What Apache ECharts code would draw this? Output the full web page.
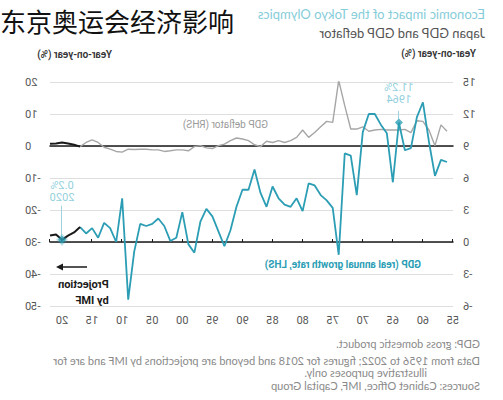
<!DOCTYPE html>
<html><head><meta charset="utf-8">
<script src="https://cdn.jsdelivr.net/npm/echarts@6/dist/echarts.min.js"></script>
<style>
html,body{margin:0;padding:0;background:#fff;}
#wrap{position:relative;width:503px;height:400px;overflow:hidden;background:#fff;}
#chart{position:absolute;left:0;top:0;width:503px;height:400px;transform:scaleX(-1);}
#title{position:absolute;left:0px;top:6px;font-family:"Noto Sans CJK SC";font-size:26px;line-height:30px;color:#111;white-space:nowrap;}
</style></head>
<body><div id="wrap"><div id="chart"></div><div id="title">东京奥运会经济影响</div></div>
<script>
// ---- data ----
const years = [1956,1957,1958,1959,1960,1961,1962,1963,1964,1965,1966,1967,1968,1969,1970,1971,1972,1973,1974,1975,1976,1977,1978,1979,1980,1981,1982,1983,1984,1985,1986,1987,1988,1989,1990,1991,1992,1993,1994,1995,1996,1997,1998,1999,2000,2001,2002,2003,2004,2005,2006,2007,2008,2009,2010,2011,2012,2013,2014,2015,2016,2017];
const gdpGrowth = [7.5,7.7,6.2,9.4,13.1,11.7,8.8,8.6,11.2,5.6,10.2,11.0,12.0,12.0,10.3,4.4,8.1,8.3,-1.2,3.2,3.9,4.4,5.3,5.5,2.9,4.1,3.3,3.5,4.1,5.2,3.3,4.6,6.8,4.9,4.9,3.3,1.1,-0.4,1.0,2.4,3.1,1.9,-1.0,-0.2,2.8,0.4,0.1,1.5,2.2,1.7,1.5,1.7,-0.9,-5.4,4.1,0.0,1.3,1.8,0.4,1.3,0.8,1.4];
const gdpDeflator = [4.6,6.6,0.1,5.0,7.7,7.9,4.2,5.2,5.0,5.0,5.0,5.2,5.0,4.6,6.0,5.3,5.3,12.6,20.5,7.4,7.7,6.0,4.2,2.7,5.0,2.7,1.7,1.1,1.7,1.1,1.5,-0.2,0.4,1.7,2.2,2.5,1.7,0.6,0.1,-0.8,-0.6,0.1,-0.2,-1.5,-1.2,-1.2,-1.5,-1.7,-1.2,-1.2,-1.0,-1.0,-1.1,-1.0,-1.9,-1.7,-1.0,-0.4,1.1,1.9,1.1,-0.2];
const projYears = [2017,2018,2019,2020,2021,2022];
const gdpGrowthProj = [1.4,0.9,0.6,0.2,0.7,0.6];
const gdpDeflatorProj = [-0.2,0.4,0.8,1.1,0.8,0.7];
const highlightYears = [1964, 2020];
const highlightValues = [11.2, 0.2];
const highlightLabels = ['11.2%\n1964', '0.2%\n2020'];
const highlightLeaderTop = [12.3, 3.4];
const notes = [
  'GDP: gross domestic product.',
  'Data from 1956 to 2022; figures for 2018 and beyond are projections by IMF and are for',
  'illustrative purposes only.',
  'Sources: Cabinet Office, IMF, Capital Group'
];

// ---- styles ----
const TEAL = '#2b9db4', TEAL_LIGHT = '#72c3d3', GREY = '#a6a6a6', BLACK = '#1a1a1a';
const COND = "Roboto,'DejaVu Sans',sans-serif";
const SANS = "Lato,'Open Sans',sans-serif";

const pair = (xs, ys) => xs.map((x, i) => [x, ys[i]]);

const chart = echarts.init(document.getElementById('chart'), null, {renderer: 'svg', width: 503, height: 400});

const option = {
  animation: false,
  backgroundColor: '#fff',
  grid: {left: 50, right: 50, top: 82, bottom: 94},
  xAxis: [
    {type: 'value', min: 1955, max: 2022, interval: 5,
      axisLine: {show: false, onZero: false}, axisTick: {show: false}, splitLine: {show: false},
      axisLabel: {showMaxLabel: false, margin: 9, color: '#555', fontSize: 11, fontFamily: COND,
        formatter: v => String(v % 100).padStart(2, '0')}},
    {type: 'value', min: 1955, max: 2022, interval: 5,
      axisLine: {show: true, onZero: true, onZeroAxisIndex: 0, lineStyle: {color: BLACK, width: 1.5}},
      axisTick: {show: true, length: 3, lineStyle: {color: BLACK, width: 1}},
      axisLabel: {show: false}, splitLine: {show: false}},
    {type: 'value', min: 1955, max: 2022, interval: 5,
      axisLine: {show: true, onZero: true, onZeroAxisIndex: 1, lineStyle: {color: BLACK, width: 1.5}},
      axisTick: {show: false}, axisLabel: {show: false}, splitLine: {show: false}}
  ],
  yAxis: [
    {type: 'value', min: -6, max: 15, interval: 3, position: 'left',
      axisLine: {show: false}, axisTick: {show: false},
      splitLine: {show: true, lineStyle: {color: '#dedede', width: 1}},
      axisLabel: {margin: 10, color: '#555', fontSize: 11, fontFamily: COND}},
    {type: 'value', min: -50, max: 20, interval: 10, position: 'right',
      axisLine: {show: false}, axisTick: {show: false}, splitLine: {show: false},
      axisLabel: {margin: 25, align: 'right', color: '#555', fontSize: 11, fontFamily: COND}}
  ],
  series: [
    {type: 'line', name: 'GDP deflator (RHS)', xAxisIndex: 0, yAxisIndex: 1, data: pair(years, gdpDeflator),
      symbol: 'none', lineStyle: {color: GREY, width: 1.4}, z: 2},
    {type: 'line', name: 'GDP deflator projection', xAxisIndex: 0, yAxisIndex: 1, data: pair(projYears, gdpDeflatorProj),
      symbol: 'none', lineStyle: {color: BLACK, width: 2}, z: 3},
    {type: 'line', name: 'GDP (real annual growth rate, LHS)', xAxisIndex: 0, yAxisIndex: 0, data: pair(years, gdpGrowth),
      symbol: 'none', lineStyle: {color: TEAL, width: 1.8}, z: 4},
    {type: 'line', name: 'GDP projection', xAxisIndex: 0, yAxisIndex: 0, data: pair(projYears, gdpGrowthProj),
      symbol: 'none', lineStyle: {color: BLACK, width: 2}, z: 5},
    {type: 'scatter', name: 'highlights', xAxisIndex: 0, yAxisIndex: 0, z: 6,
      data: highlightYears.map((y, i) => ({
        value: [y, highlightValues[i]],
        label: {show: true, position: 'top', distance: i === 0 ? 13 : 31, formatter: highlightLabels[i]},
        itemStyle: i === 1 ? {color: TEAL, borderColor: 'rgba(43,157,180,0.35)', borderWidth: 3} : {color: TEAL}
      })),
      symbol: 'diamond', symbolSize: 8,
      label: {color: TEAL_LIGHT, fontSize: 11, lineHeight: 12, fontFamily: COND, align: 'center'},
      markLine: {silent: true, symbol: 'none', label: {show: false},
        lineStyle: {color: '#9fd3de', width: 1, type: 'solid'},
        data: highlightYears.map((y, i) => [{coord: [y, highlightValues[i] + 0.3]}, {coord: [y, highlightLeaderTop[i]]}])}
    }
  ],
  graphic: [
    {type: 'text', left: 18, top: 7, style: {text: 'Economic impact of the Tokyo Olympics', fill: '#86cdda', font: '13px ' + SANS}},
    {type: 'text', left: 18, top: 26, style: {text: 'Japan GDP and GDP deflator', fill: '#555', font: '13px ' + SANS}},
    {type: 'text', left: 27, top: 48, style: {text: 'Year-on-year (%)', fill: '#333', font: '600 10px ' + COND}},
    {type: 'text', left: 391, top: 49, style: {text: 'Year-on-year (%)', fill: '#333', font: '600 10px ' + COND}},
    {type: 'text', left: 235, top: 119, style: {text: 'GDP deflator (RHS)', fill: '#9a9a9a', font: '10px ' + COND}},
    {type: 'text', left: 82, top: 259, style: {text: 'GDP (real annual growth rate, LHS)', fill: TEAL, font: 'bold 10px ' + COND}},
    {type: 'text', right: 58, top: 276, style: {text: 'Projection\nby IMF', fill: BLACK, font: 'bold 11px ' + COND, lineHeight: 16, align: 'right'}},
    {type: 'line', shape: {x1: 416, y1: 267, x2: 443, y2: 267}, style: {stroke: BLACK, lineWidth: 1.5}},
    {type: 'polygon', shape: {points: [[447, 267], [440, 263.5], [440, 270.5]]}, style: {fill: BLACK}},
    {type: 'text', left: 23, top: 338, style: {text: notes[0], fill: '#8a8a8a', font: '11px ' + SANS}},
    {type: 'text', left: 23, top: 355, style: {text: notes[1], fill: '#8a8a8a', font: '11px ' + SANS}},
    {type: 'text', left: 76, top: 367, style: {text: notes[2], fill: '#8a8a8a', font: '11px ' + SANS}},
    {type: 'text', left: 23, top: 380, style: {text: notes[3], fill: '#8a8a8a', font: '11px ' + SANS}}
  ]
};
chart.setOption(option);
</script>
</body></html>
